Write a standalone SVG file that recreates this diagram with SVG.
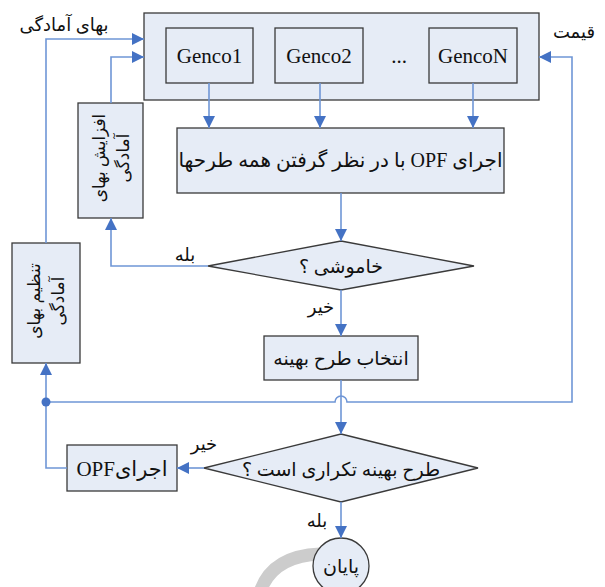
<svg xmlns="http://www.w3.org/2000/svg" width="605" height="587" viewBox="0 0 605 587">
<style>
.box{fill:#e6ecf6;stroke:#3a3a3a;stroke-width:1.3}
.ln{fill:none;stroke:#6f96d6;stroke-width:1.6}
.lat{font-family:"Liberation Serif","DejaVu Sans",serif;font-size:21px;fill:#111}
.fa{font-family:"Liberation Serif","DejaVu Sans",sans-serif;font-size:19px;fill:#111}
.vt{font-family:"Liberation Serif","DejaVu Sans",sans-serif;font-size:17px;fill:#111}
.lb{font-family:"Liberation Serif","DejaVu Sans",sans-serif;font-size:18px;fill:#111}
</style>
<defs>
<marker id="ah" viewBox="0 0 12 12" refX="12" refY="6" markerWidth="12" markerHeight="12" markerUnits="userSpaceOnUse" orient="auto">
<path d="M0 0 L12 6 L0 12 Z" fill="#4472c4"/>
</marker>
</defs>
<path d="M260 592 Q272 556 320 554" fill="none" stroke="#cccccc" stroke-width="13"/>
<g id="gencos">
<rect class="box" x="144" y="13" width="395" height="87"/>
<g id="genco1"><rect class="box" x="166" y="28" width="87" height="55"/><text class="lat" x="209.5" y="63" text-anchor="middle">Genco1</text></g>
<g id="genco2"><rect class="box" x="275" y="28" width="88" height="55"/><text class="lat" x="319" y="63" text-anchor="middle">Genco2</text></g>
<text class="lat" x="399" y="63" text-anchor="middle">...</text>
<g id="gencoN"><rect class="box" x="429" y="28" width="88" height="55"/><text class="lat" x="473" y="63" text-anchor="middle">GencoN</text></g>
</g>
<g id="opf_all"><rect class="box" x="177" y="128" width="327" height="65"/><text class="fa" x="340.5" y="167" text-anchor="middle" direction="rtl" style="font-size:20px">اجرای OPF با در نظر گرفتن همه طرحها</text></g>
<g id="d1"><path class="box" d="M341 241 L474 266 L341 290 L208 266 Z"/><text class="fa" x="341" y="273" text-anchor="middle" direction="rtl">خاموشی ؟</text></g>
<g id="select"><rect class="box" x="264" y="336" width="154" height="44"/><text class="fa" x="341" y="365" text-anchor="middle" direction="rtl">انتخاب طرح بهینه</text></g>
<g id="d2"><path class="box" d="M341 434 L478 468 L341 502 L204 468 Z"/><text class="fa" x="341" y="476" text-anchor="middle" direction="rtl">طرح بهینه تکراری است ؟</text></g>
<g id="opf"><rect class="box" x="67" y="445" width="110" height="46"/><text class="lat" x="122" y="476" text-anchor="middle" direction="rtl">اجرایOPF</text></g>
<g id="end"><circle class="box" cx="341" cy="566" r="28"/><text class="fa" x="341" y="573" text-anchor="middle" direction="rtl">پایان</text></g>
<g id="increase"><rect class="box" x="78" y="103" width="65" height="115"/>
<text class="vt" transform="translate(110.5 158) rotate(-90)" text-anchor="middle" direction="rtl"><tspan x="0" y="-6">افزایش بهای</tspan><tspan x="0" y="18">آمادگی</tspan></text></g>
<g id="adjust"><rect class="box" x="12" y="243" width="68" height="120"/>
<text class="vt" transform="translate(46 301) rotate(-90)" text-anchor="middle" direction="rtl"><tspan x="0" y="-6">تنظیم بهای</tspan><tspan x="0" y="18">آمادگی</tspan></text></g>
<g id="connectors">
<path class="ln" d="M209 83 V128" marker-end="url(#ah)"/>
<path class="ln" d="M320 83 V128" marker-end="url(#ah)"/>
<path class="ln" d="M473 83 V128" marker-end="url(#ah)"/>
<path class="ln" d="M341 193 V241" marker-end="url(#ah)"/>
<path class="ln" d="M341 290 V336" marker-end="url(#ah)"/>
<path class="ln" d="M341 380 V434" marker-end="url(#ah)"/>
<path class="ln" d="M341 502 V538" marker-end="url(#ah)"/>
<path class="ln" d="M208 266 H111 V218" marker-end="url(#ah)"/>
<path class="ln" d="M111 103 V57 H144" marker-end="url(#ah)"/>
<path class="ln" d="M204 468 H177" marker-end="url(#ah)"/>
<path class="ln" d="M67 468 H46 V363" marker-end="url(#ah)"/>
<path class="ln" d="M46 243 V39 H144" marker-end="url(#ah)"/>
<path class="ln" d="M46 402 H335 A6 6 0 0 1 347 402 H572 V57 H539" marker-end="url(#ah)"/>
<circle cx="46" cy="402" r="4.5" fill="#4472c4"/>
</g>
<g id="labels">
<text class="lb" x="64" y="31" text-anchor="middle" direction="rtl">بهای آمادگی</text>
<text class="lb" x="574" y="38" text-anchor="middle" direction="rtl">قیمت</text>
<text class="lb" x="185" y="261" text-anchor="middle" direction="rtl">بله</text>
<text class="lb" x="321" y="313" text-anchor="middle" direction="rtl">خیر</text>
<text class="lb" x="204" y="450" text-anchor="middle" direction="rtl">خیر</text>
<text class="lb" x="317" y="527" text-anchor="middle" direction="rtl">بله</text>
</g>
</svg>
